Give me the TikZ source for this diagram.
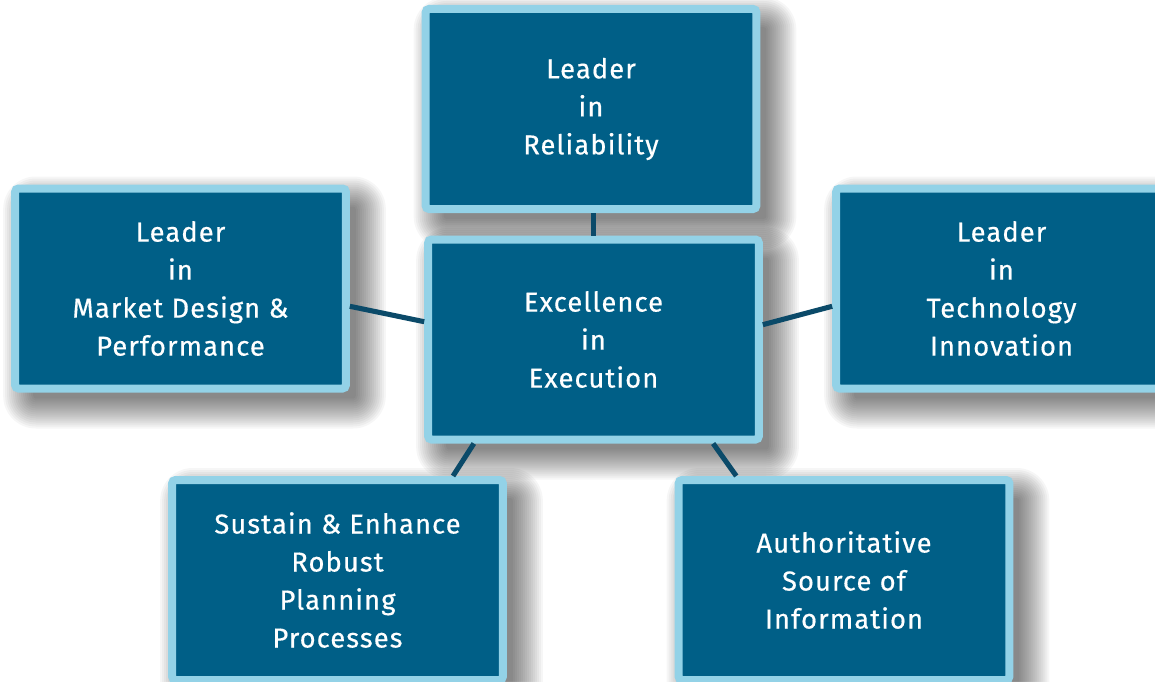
\documentclass[tikz,border=0pt]{standalone}
\usepackage{fontspec}
\setmainfont[LetterSpace=4,FakeBold=0.5]{Fira Sans}
\usetikzlibrary{calc}
\pgfdeclarelayer{shade}
\pgfsetlayers{shade,main}
\definecolor{boxfill}{HTML}{005F87}
\definecolor{boxrim}{HTML}{93D2E7}
\definecolor{linkcol}{HTML}{0B4A69}
\tikzset{
  goalbox/.style={
    rectangle, rounded corners=2.5pt, fill=boxfill, draw=boxrim, line width=6pt,
    minimum width=248pt, minimum height=150pt, inner sep=0pt,
    align=center, text=white,
    font=\fontsize{20.5}{28.5}\selectfont
  },
  link/.style={draw=linkcol, line width=3.8pt}
}
% soft drop shadow below and to the right: stacked translucent rectangles
% (offset 14, core inset 8, each layer grows by 2; y runs downwards)
\newcommand\dropshade[1]{%
  \foreach \k in {0,...,15}{
    \fill[black, opacity=0.036, rounded corners=2pt+\k*1.5pt]
      ($(#1.south west)+(22-\k*2,6+\k*2)$) rectangle
      ($(#1.north east)+(6+\k*2,22-\k*2)$);
  }%
}
\begin{document}
\begin{tikzpicture}[x=0.75pt, y=-0.75pt]
  \useasboundingbox (0,0) rectangle (1155,681);

  \node[goalbox] (E) at (593.5,339.5) {Excellence\\in\\Execution};
  \node[goalbox] (R) at (591,109) {Leader\\in\\Reliability};
  \node[goalbox] (M) at (180.5,288.5) {Leader\\in\\Market Design \&\\Performance};
  \node[goalbox] (T) at (1001.5,288.5) {Leader\\in\\Technology\\Innovation};
  \node[goalbox] (P) at (337.5,580) {Sustain \& Enhance\\Robust\\Planning\\Processes};
  \node[goalbox] (S) at (844,580) {Authoritative\\Source of\\Information};

  \begin{pgfonlayer}{shade}
    \fill[white] (0,0) rectangle (1155,681);
    \dropshade{E}\dropshade{R}\dropshade{M}\dropshade{T}\dropshade{P}\dropshade{S}
  \end{pgfonlayer}

  % connectors
  \draw[link] (E.north) -- (E.north |- R.south);
  \draw[link] (M.-6.2) -- (E.174.4);
  \draw[link] (E.5.9) -- (T.186.2);
  \draw[link] (E.-139.3) -- (P.42.75);
  \draw[link] (E.-41.6) -- (S.136.3);
\end{tikzpicture}
\end{document}
